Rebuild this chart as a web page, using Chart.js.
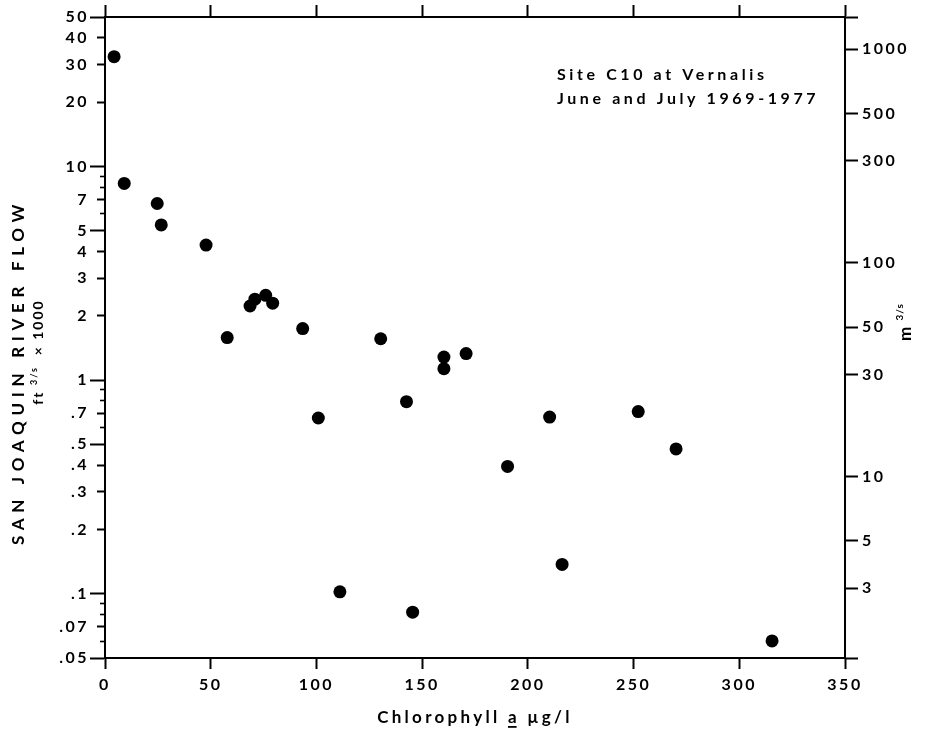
<!DOCTYPE html>
<html><head><meta charset="utf-8">
<script src="https://cdn.jsdelivr.net/npm/chart.js@4"></script>
<style>html,body{margin:0;padding:0;background:#fff}#wrap{width:943px;height:738px}</style>
</head><body><div id="wrap"><canvas id="c" width="943" height="738"></canvas></div>
<script>
// ---- data ----
const chlorophyll = [4.3, 9.1, 24.7, 26.6, 47.8, 57.8, 68.6, 70.9, 76.0, 79.3, 93.5, 100.9, 111.1, 130.4, 142.6, 145.5, 160.3, 160.3, 170.8, 190.4, 210.3, 216.2, 252.2, 270.1, 315.5];
const flow = [32.6, 8.32, 6.70, 5.32, 4.28, 1.58, 2.22, 2.39, 2.49, 2.29, 1.74, 0.664, 0.102, 1.56, 0.792, 0.0819, 1.28, 1.13, 1.33, 0.394, 0.671, 0.137, 0.712, 0.476, 0.0601];
const xTicks = [0, 50, 100, 150, 200, 250, 300, 350];
const yMajorTicks = [50, 10, 5, 1, 0.5, 0.1, 0.05];
const yLabeledTicks = [50, 40, 30, 20, 10, 7, 5, 4, 3, 2, 1, 0.7, 0.5, 0.4, 0.3, 0.2, 0.1, 0.07, 0.05];
const yLabels = ['50', '40', '30', '20', '10', '7', '5', '4', '3', '2', '1', '.7', '.5', '.4', '.3', '.2', '.1', '.07', '.05'];
const yMinorTicks = [40, 30, 20, 7, 4, 3, 2, 0.7, 0.4, 0.3, 0.2, 0.07];
const yShortTicks = [9, 8, 6, 0.9, 0.8, 0.6, 0.09, 0.08, 0.06];
const rightTicks = [1000, 500, 300, 100, 50, 30, 10, 5, 3];
const rightLabels = ['1000', '500', '300', '100', '50', '30', '10', '5', '3'];
const M3S_PER_KCFS = 28.3168;
const Y_MIN = 0.05, Y_MAX = 50;
const X_MIN = 0, X_MAX = 350;

const FONT = 'Lato, "DejaVu Sans", sans-serif';
const tickFont = {family: FONT, size: 16, weight: 'bold'};

const spacingPlugin = {
  id: 'spacing',
  beforeUpdate(chart) { chart.ctx.letterSpacing = '2.5px'; },
  beforeDraw(chart) { chart.ctx.letterSpacing = '2.5px'; }
};

function drawRuns(ctx, runs, cx, cy, rot, align, spacing) {
  ctx.save();
  ctx.translate(cx, cy);
  ctx.rotate(rot);
  ctx.letterSpacing = spacing + 'px';
  ctx.textBaseline = 'alphabetic';
  ctx.textAlign = 'left';
  let total = 0;
  const widths = runs.map(r => { ctx.font = r.font; const w = ctx.measureText(r.text).width; total += w; return w; });
  let x = align === 'center' ? -total / 2 : 0;
  runs.forEach((r, i) => {
    ctx.font = r.font;
    ctx.fillText(r.text, x, r.dy || 0);
    if (r.underline) {
      ctx.fillRect(x, (r.dy || 0) + 3, widths[i] - spacing, 1.8);
    }
    x += widths[i];
  });
  ctx.restore();
}

const textPlugin = {
  id: 'texts',
  afterDraw(chart) {
    const ctx = chart.ctx;
    ctx.save();
    ctx.fillStyle = '#000';
    const b = s => 'bold ' + s + 'px ' + FONT;
    // left axis titles
    drawRuns(ctx, [{text: 'SAN JOAQUIN RIVER FLOW', font: b(17), dy: 6}], 18, 372, -Math.PI / 2, 'center', 5.7);
    drawRuns(ctx, [
      {text: 'ft ', font: b(14), dy: 5},
      {text: '3/s', font: b(9), dy: -1},
      {text: '  × 1000', font: b(14), dy: 5}
    ], 38, 352, -Math.PI / 2, 'center', 2);
    // right axis title
    drawRuns(ctx, [
      {text: 'm ', font: b(17), dy: 6},
      {text: '3/s', font: b(10), dy: -2}
    ], 905, 322, -Math.PI / 2, 'center', 1);
    // x axis title
    drawRuns(ctx, [
      {text: 'Chlorophyll ', font: b(17), dy: 0},
      {text: 'a', font: b(17), dy: 0, underline: true},
      {text: ' µg/l', font: b(17), dy: 0}
    ], 475, 723, 0, 'center', 3.3);
    // annotation
    drawRuns(ctx, [{text: 'Site C10 at Vernalis', font: b(16)}], 557, 80, 0, 'left', 3.6);
    drawRuns(ctx, [{text: 'June and July 1969-1977', font: b(16)}], 557, 104, 0, 'left', 3.6);
    ctx.restore();
  }
};

const toTicks = arr => arr.map(v => ({value: v}));
const noGrid = (len, w, color) => ({drawOnChartArea: false, drawTicks: true, tickLength: len, tickWidth: w, tickColor: color || '#000'});

new Chart(document.getElementById('c'), {
  type: 'scatter',
  data: {
    datasets: [{
      data: chlorophyll.map((x, i) => ({x: x, y: flow[i]})),
      xAxisID: 'x', yAxisID: 'y',
      pointRadius: 6.5, pointHoverRadius: 6.5,
      backgroundColor: '#000', borderColor: '#000', borderWidth: 0
    }]
  },
  options: {
    responsive: false, animation: false, events: [],
    layout: {padding: 0},
    plugins: {legend: {display: false}, tooltip: {enabled: false}},
    scales: {
      x: {
        type: 'linear', position: 'bottom', min: X_MIN, max: X_MAX,
        afterBuildTicks: a => { a.ticks = toTicks(xTicks); },
        afterFit: a => { a.height = 80; },
        grid: noGrid(11, 2),
        border: {display: true, color: '#000', width: 2},
        ticks: {color: '#000', font: tickFont, padding: 6, maxRotation: 0, autoSkip: false}
      },
      xt: {
        type: 'linear', position: 'top', min: X_MIN, max: X_MAX,
        afterBuildTicks: a => { a.ticks = toTicks(xTicks); },
        afterFit: a => { a.height = 17; },
        grid: noGrid(12, 2),
        border: {display: true, color: '#000', width: 2},
        ticks: {display: false}
      },
      y: {
        type: 'logarithmic', position: 'left', min: Y_MIN, max: Y_MAX, weight: 3,
        afterBuildTicks: a => { a.ticks = toTicks(yLabeledTicks); },
        afterFit: a => { a.width = 105; },
        grid: {drawOnChartArea: false, tickLength: 15, tickWidth: 2,
          tickColor: c => (c.tick && yMajorTicks.includes(c.tick.value)) ? '#000' : 'rgba(0,0,0,0)'},
        border: {display: true, color: '#000', width: 2},
        ticks: {color: '#000', font: tickFont, padding: 1, autoSkip: false, callback: (v, i) => yLabels[i]}
      },
      yb: {
        type: 'logarithmic', position: 'left', min: Y_MIN, max: Y_MAX, weight: 1,
        afterBuildTicks: a => { a.ticks = toTicks(yMinorTicks); },
        afterFit: a => { a.width = 0; },
        grid: noGrid(8, 2),
        border: {display: false},
        ticks: {display: false}
      },
      yc: {
        type: 'logarithmic', position: 'left', min: Y_MIN, max: Y_MAX, weight: 0,
        afterBuildTicks: a => { a.ticks = toTicks(yShortTicks); },
        afterFit: a => { a.width = 0; },
        grid: noGrid(5, 1.6),
        border: {display: false},
        ticks: {display: false}
      },
      yr: {
        type: 'logarithmic', position: 'right', min: Y_MIN * M3S_PER_KCFS, max: Y_MAX * M3S_PER_KCFS,
        afterBuildTicks: a => { a.ticks = toTicks([Y_MAX * M3S_PER_KCFS].concat(rightTicks, [Y_MIN * M3S_PER_KCFS])); },
        afterFit: a => { a.width = 98; },
        grid: noGrid(13, 2),
        border: {display: true, color: '#000', width: 2},
        ticks: {color: '#000', font: tickFont, padding: 4, autoSkip: false,
          callback: (v, i) => (i >= 1 && i <= rightLabels.length) ? rightLabels[i - 1] : ''}
      }
    }
  },
  plugins: [spacingPlugin, textPlugin]
});
</script>
</body></html>
